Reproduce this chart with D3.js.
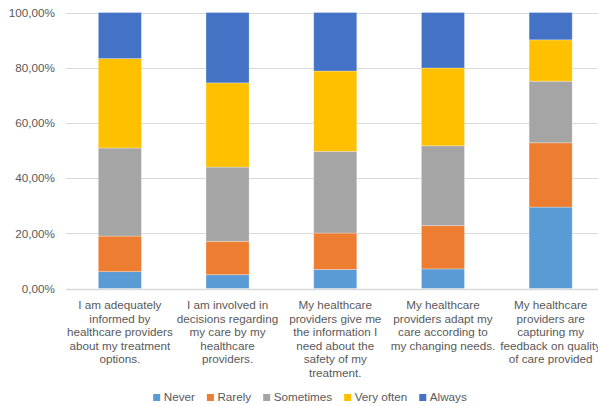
<!DOCTYPE html>
<html>
<head>
<meta charset="utf-8">
<script src="https://cdn.jsdelivr.net/npm/d3@7"></script>
<style>
  html, body { margin: 0; padding: 0; background: #fff; }
  svg { display: block; }
  text { font-family: "Liberation Sans", Arial, sans-serif; fill: #595959; }
</style>
</head>
<body>
<svg id="chart" width="598" height="406"></svg>
<script>
// ---- data ----
const categories = [
  ["I am adequately", "informed by", "healthcare providers", "about my treatment", "options."],
  ["I am involved in", "decisions regarding", "my care by my", "healthcare", "providers."],
  ["My healthcare", "providers give me", "the information I", "need about the", "safety of my", "treatment."],
  ["My healthcare", "providers adapt my", "care according to", "my changing needs."],
  ["My healthcare", "providers are", "capturing my", "feedback on quality", "of care provided"]
];
const seriesNames = ["Never", "Rarely", "Sometimes", "Very often", "Always"];
const never     = [6.1, 5.0, 6.9, 7.1, 29.5];
const rarely    = [12.9, 12.1, 13.2, 15.7, 23.3];
const sometimes = [31.9, 26.9, 29.6, 28.9, 22.3];
const veryOften = [32.4, 30.5, 29.1, 28.2, 15.0];
const always    = [16.7, 25.5, 21.2, 20.1, 9.9];
const yTicks = [0, 20, 40, 60, 80, 100];
const colors = ["#5B9BD5", "#ED7D31", "#A5A5A5", "#FFC000", "#4472C4"];

const seriesValues = [never, rarely, sometimes, veryOften, always];
const table = categories.map((c, i) => {
  const row = { idx: i };
  seriesNames.forEach((s, j) => row[s] = seriesValues[j][i]);
  return row;
});

// ---- layout ----
const svg = d3.select("#chart");
const mLeft = 66, mRight = 604.5, mTop = 12.5, mBottom = 288.5;
const fs = "11.7px";

const x = d3.scaleBand().domain(d3.range(categories.length))
  .range([mLeft, mRight]).paddingInner(0.6).paddingOuter(0.3);
const y = d3.scaleLinear().domain([0, 100]).range([mBottom, mTop]);

// gridlines
svg.append("g").selectAll("line").data(yTicks).join("line")
  .attr("x1", mLeft).attr("x2", 598)
  .attr("y1", d => Math.round(y(d)) + 0.5).attr("y2", d => Math.round(y(d)) + 0.5)
  .attr("stroke", "#D9D9D9").attr("stroke-width", 1);

// y axis labels
const fmt = d => d3.format(".2f")(d).replace(".", ",") + "%";
const yAxis = d3.axisLeft(y).tickValues(yTicks).tickFormat(fmt).tickSize(0).tickPadding(0);
const yg = svg.append("g").attr("transform", `translate(55,0)`).call(yAxis);
yg.select(".domain").remove();
yg.selectAll("text").attr("font-size", fs).attr("fill", "#595959")
  .style("font-family", '"Liberation Sans", Arial, sans-serif');

// stacked bars
const stack = d3.stack().keys(seriesNames)(table);
svg.append("g").selectAll("g").data(stack).join("g")
  .attr("fill", (d, i) => colors[i])
  .selectAll("rect").data(d => d).join("rect")
  .attr("x", d => x(d.data.idx))
  .attr("width", x.bandwidth())
  .attr("y", d => y(d[1]))
  .attr("height", d => y(d[0]) - y(d[1]))
  .attr("stroke", "#ffffff").attr("stroke-opacity", 0.35).attr("stroke-width", 0.8);

// baseline
svg.append("line").attr("x1", mLeft).attr("x2", 598)
  .attr("y1", Math.round(y(0)) + 0.5).attr("y2", Math.round(y(0)) + 0.5)
  .attr("stroke", "#D9D9D9").attr("stroke-width", 1.5);

// x labels
const xl = svg.append("g");
categories.forEach((lines, i) => {
  const t = xl.append("text")
    .attr("x", x(i) + x.bandwidth() / 2)
    .attr("y", 309)
    .attr("text-anchor", "middle")
    .attr("font-size", fs);
  lines.forEach((ln, k) => {
    t.append("tspan").attr("x", x(i) + x.bandwidth() / 2)
      .attr("dy", k === 0 ? 0 : 13.6).text(ln);
  });
});

// legend
const lg = svg.append("g");
let cx = 0;
seriesNames.forEach((s, i) => {
  const g = lg.append("g").attr("transform", `translate(${cx},0)`);
  g.append("rect").attr("x", 0).attr("y", -7).attr("width", 7).attr("height", 7).attr("fill", colors[i]);
  const t = g.append("text").attr("x", 10.5).attr("y", 0).attr("font-size", fs).text(s);
  const w = t.node().getComputedTextLength();
  cx += 10.5 + w + 12;
});
const totalW = cx - 12;
lg.attr("transform", `translate(${310 - totalW / 2},401)`);
</script>
</body>
</html>
